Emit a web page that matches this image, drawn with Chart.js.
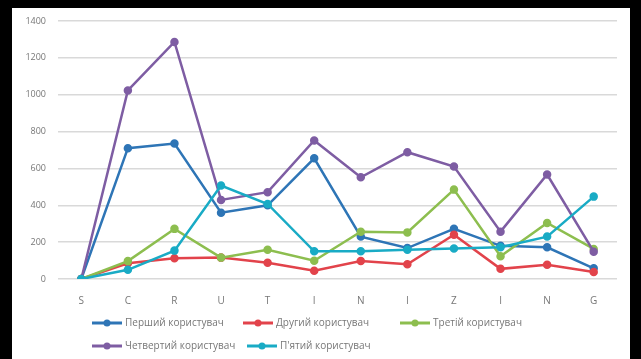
<!DOCTYPE html>
<html>
<head>
<meta charset="utf-8">
<script src="https://cdn.jsdelivr.net/npm/chart.js@4.4.1/dist/chart.umd.min.js"></script>
<style>
  html, body { margin: 0; padding: 0; background: #000; }
  #wrap { position: absolute; left: 12px; top: 8px; width: 618px; height: 351px; background: #fff; }
</style>
</head>
<body>
<div id="wrap"><canvas id="grafico"></canvas></div>
<script>
const etiquetas = ['S', 'C', 'R', 'U', 'T', 'I', 'N', 'I', 'Z', 'I', 'N', 'G'];
const nombres = ['Перший користувач', 'Другий користувач', 'Третій користувач',
                 'Четвертий користувач', "П'ятий користувач"];
const colores = ['#2E75B6', '#E2434B', '#8DBE4F', '#7E5DA3', '#19ABC5'];

const primero = [0, 710, 735, 360, 400, 655, 230, 168, 272, 180, 172, 58];
const segundo = [0, 85, 112, 116, 88, 45, 98, 80, 240, 55, 77, 38];
const tercero = [0, 97, 272, 116, 159, 99, 257, 253, 485, 123, 304, 163];
const cuarto = [0, 1023, 1286, 429, 471, 752, 552, 688, 610, 257, 567, 148];
const quinto = [0, 50, 154, 507, 407, 150, 150, 159, 166, 172, 230, 447];
const series = [primero, segundo, tercero, cuarto, quinto];

const fuente = "'Open Sans', 'DejaVu Sans', sans-serif";
const gris = '#777';

// leyenda dibujada a mano: dos filas como en Excel
const posLeyenda = [[80, 315], [231, 315], [388, 315], [80, 338], [235, 338]];
const leyenda = {
  id: 'leyenda',
  afterDraw(chart) {
    const ctx = chart.ctx;
    ctx.save();
    chart.data.datasets.forEach((ds, i) => {
      const [x, y] = posLeyenda[i];
      ctx.strokeStyle = ds.borderColor;
      ctx.lineWidth = 3;
      ctx.beginPath();
      ctx.moveTo(x, y);
      ctx.lineTo(x + 30, y);
      ctx.stroke();
      ctx.fillStyle = ds.borderColor;
      ctx.beginPath();
      ctx.arc(x + 15, y, 3.5, 0, Math.PI * 2);
      ctx.fill();
      ctx.fillStyle = gris;
      ctx.font = '10px ' + fuente;
      ctx.textBaseline = 'middle';
      ctx.fillText(ds.label, x + 33, y);
    });
    ctx.restore();
  }
};

const datasets = series.map((s, i) => ({
  label: nombres[i],
  data: s,
  borderColor: colores[i],
  backgroundColor: colores[i],
  borderWidth: 2.5,
  pointRadius: 3,
  pointHoverRadius: 3,
  tension: 0,
  order: series.length - i
}));

new Chart('grafico', {
  type: 'line',
  data: { labels: etiquetas, datasets: datasets },
  options: {
    responsive: true,
    maintainAspectRatio: false,
    animation: false,
    layout: { padding: { top: 13, right: 13, bottom: 52, left: 0 } },
    plugins: { legend: { display: false }, tooltip: { enabled: false } },
    scales: {
      x: {
        offset: true,
        grid: { display: false },
        border: { display: false },
        ticks: { color: gris, font: { family: fuente, size: 10 }, padding: 8 },
        afterFit: s => { s.height = 28; }
      },
      y: {
        min: 0,
        max: 1400,
        ticks: {
          stepSize: 200, color: gris, font: { family: fuente, size: 9 }, padding: 12,
          callback: v => String(v)
        },
        grid: { color: '#d9d9d9', lineWidth: 1.5, drawTicks: false },
        border: { display: false },
        // el padding de las etiquetas no debe empujar el área hacia abajo
        afterFit: s => { s.width = 46; s.paddingTop = 5; s.paddingBottom = 5; }
      }
    }
  },
  plugins: [leyenda]
});
</script>
</body>
</html>
